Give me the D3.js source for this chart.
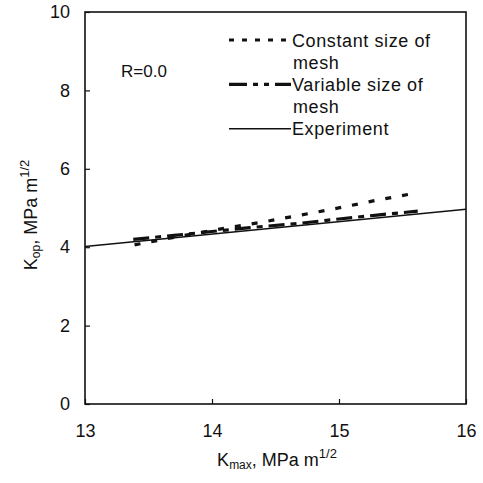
<!DOCTYPE html>
<html><head><meta charset="utf-8">
<script src="https://cdn.jsdelivr.net/npm/d3@7"></script>
<style>body{margin:0;background:#fff}svg{display:block;font-family:"Liberation Sans",Arial,sans-serif}</style>
</head><body><svg id="c" width="483" height="483"></svg>
<script>
const xTicks = [13, 14, 15, 16];
const yTicks = [0, 2, 4, 6, 8, 10];
const expX = [13, 16];
const expY = [4.02, 4.97];
const constX = [13.39, 13.7, 14.0, 14.43, 14.98, 15.3, 15.62];
const constY = [4.06, 4.25, 4.43, 4.66, 4.99, 5.2, 5.39];
const varX = [13.38, 13.7, 14.0, 14.3, 14.69, 15.0, 15.3, 15.62];
const varY = [4.2, 4.3, 4.4, 4.5, 4.61, 4.72, 4.82, 4.92];
const legendLabels = [["Constant size of", "mesh"], ["Variable size of", "mesh"], ["Experiment"]];

const svg = d3.select("#c");
const L = 85, R = 466, T = 12, B = 404;
const x = d3.scaleLinear().domain([13, 16]).range([L, R]);
const y = d3.scaleLinear().domain([0, 10]).range([B, T]);

// frame
svg.append("rect").attr("x", L).attr("y", T).attr("width", R - L).attr("height", B - T)
  .attr("fill", "none").attr("stroke", "#111").attr("stroke-width", 1.6);

// axes (inward ticks)
const xa = svg.append("g").attr("transform", `translate(0,${B})`)
  .call(d3.axisBottom(x).tickValues(xTicks).tickSize(-5).tickPadding(20).tickFormat(d3.format("d")));
const ya = svg.append("g").attr("transform", `translate(${L},0)`)
  .call(d3.axisLeft(y).tickValues(yTicks).tickSize(-5).tickPadding(15).tickFormat(d3.format("d")));
[xa, ya].forEach(a => {
  a.select(".domain").remove();
  a.selectAll("line").attr("stroke", "#111").attr("stroke-width", 1.2);
  a.selectAll("text").attr("font-size", 18).attr("fill", "#111")
    .attr("font-family", "Liberation Sans, Arial, sans-serif");
});

const line = d3.line().x(d => x(d[0])).y(d => y(d[1]));
const zip = (a, b) => a.map((v, i) => [v, b[i]]);

svg.append("path").datum(zip(expX, expY)).attr("d", line)
  .attr("fill", "none").attr("stroke", "#111").attr("stroke-width", 1.5);
svg.append("path").datum(zip(constX, constY)).attr("d", line)
  .attr("fill", "none").attr("stroke", "#111").attr("stroke-width", 3.2).attr("stroke-dasharray", "6,11");
svg.append("path").datum(zip(varX, varY)).attr("d", line)
  .attr("fill", "none").attr("stroke", "#111").attr("stroke-width", 3.2).attr("stroke-dasharray", "16,6,6,6");

// legend
const lg = svg.append("g");
const styles = [
  {w: 3.2, dash: "5,8"},
  {w: 3.2, dash: "18,6,5,6,5,6"},
  {w: 1.4, dash: null}
];
let row = 0;
legendLabels.forEach((lab, i) => {
  const yy = 40 + row * 22.2;
  const p = lg.append("line").attr("x1", 229).attr("x2", 291).attr("y1", yy).attr("y2", yy)
    .attr("stroke", "#111").attr("stroke-width", styles[i].w);
  if (styles[i].dash) p.attr("stroke-dasharray", styles[i].dash);
  lab.forEach((t, j) => {
    lg.append("text").attr("x", j === 0 ? 292 : 293).attr("y", yy + 22.2 * j + 6.5)
      .attr("font-size", 18).attr("letter-spacing", 0.6).attr("fill", "#111").text(t);
  });
  row += lab.length;
});

svg.append("text").attr("x", 121).attr("y", 77).attr("font-size", 17).attr("fill", "#111").text("R=0.0");

// axis titles
const xt = svg.append("text").attr("x", 277).attr("y", 466).attr("text-anchor", "middle")
  .attr("font-size", 18).attr("fill", "#111");
xt.append("tspan").text("K");
xt.append("tspan").attr("font-size", 12).attr("dy", 3).text("max");
xt.append("tspan").attr("dy", -3).text(", MPa m");
xt.append("tspan").attr("font-size", 13).attr("dy", -8).text("1/2");

const yt = svg.append("text").attr("transform", "translate(37,215) rotate(-90)").attr("text-anchor", "middle")
  .attr("font-size", 18).attr("fill", "#111");
yt.append("tspan").text("K");
yt.append("tspan").attr("font-size", 12).attr("dy", 3).text("op");
yt.append("tspan").attr("dy", -3).text(", MPa m");
yt.append("tspan").attr("font-size", 13).attr("dy", -8).text("1/2");
</script></body></html>
